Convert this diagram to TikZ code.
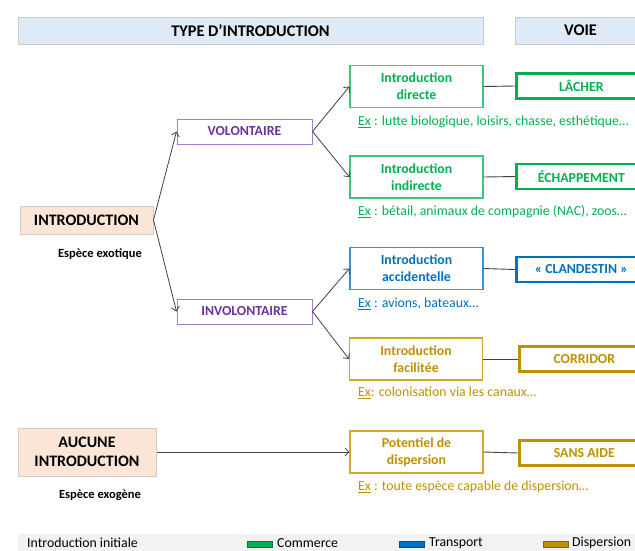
\documentclass[tikz,border=0pt]{standalone}
\usepackage{fontspec}
\setmainfont{Carlito}
\usetikzlibrary{arrows.meta,positioning}

\definecolor{cheadfill}{HTML}{DEEBF7}
\definecolor{cheadline}{HTML}{C3CCD8}
\definecolor{cpeach}{HTML}{FBE5D6}
\definecolor{cpeachline}{HTML}{D6CBC3}
\definecolor{cpurple}{HTML}{7030A0}
\definecolor{cpurplelt}{HTML}{A77DD0}
\definecolor{cgreen}{HTML}{00B050}
\definecolor{cgreenlt}{HTML}{3FC47F}
\definecolor{cblue}{HTML}{0070C0}
\definecolor{cbluelt}{HTML}{3C8FD6}
\definecolor{cgold}{HTML}{BF9000}
\definecolor{cgoldlt}{HTML}{D2A92C}
\definecolor{clegend}{HTML}{F2F2F2}
\definecolor{cline}{HTML}{404040}

\tikzset{
  headbox/.style={draw=cheadline, fill=cheadfill, line width=1pt, minimum height=27pt,
    inner sep=0pt, font=\fontsize{16.3}{18}\selectfont\bfseries},
  startbox/.style={draw=cpeachline, fill=cpeach, line width=1pt, align=center,
    inner sep=0pt, font=\fontsize{16}{19.5}\selectfont\bfseries},
  waybox/.style={draw=cpurplelt, text=cpurple, line width=1pt, minimum width=135pt,
    minimum height=25pt, inner sep=0pt, font=\fontsize{13.8}{16}\selectfont\bfseries},
  introbox/.style={draw=#1, line width=1.1pt, minimum width=133pt, minimum height=42pt,
    inner sep=0pt, align=center, font=\fontsize{13.8}{17}\selectfont\bfseries},
  voiebox/.style={draw=#1, text=#1, line width=2.6pt, anchor=west, minimum width=130pt,
    minimum height=25pt, inner sep=0pt, font=\fontsize{13.8}{16}\selectfont\bfseries},
  extext/.style={text=#1, anchor=west, inner sep=0pt, font=\fontsize{13.8}{16}\selectfont},
  species/.style={inner sep=0pt, font=\fontsize{12.5}{14}\selectfont\bfseries},
  arrow/.style={draw=cline, line width=0.8pt, -{Straight Barb[length=4pt,width=8pt]}},
  link/.style={draw=cline, line width=0.9pt},
  swatch/.style={draw=#1!70!black, fill=#1, line width=0.6pt},
  legtext/.style={anchor=west, inner sep=0pt, font=\fontsize{13.8}{15}\selectfont}
}

\begin{document}
\begin{tikzpicture}[x=1pt, y=-1pt]
  \useasboundingbox (0,0) rectangle (635,550);
  \clip (0,0) rectangle (635,550);

  % headers
  \node[headbox, minimum width=465pt] (typehead) at (250.5,30.5) {TYPE D’INTRODUCTION};
  \node[headbox, anchor=west, minimum width=130pt] (voiehead) at (515,30.5) {VOIE};

  % starting points
  \node[startbox, minimum width=133pt, minimum height=28pt] (intro) at (86.5,220) {INTRODUCTION};
  \node[species] (exotique) at (100,254) {Espèce exotique};
  \node[startbox, minimum width=138pt, minimum height=48pt] (aucune) at (87,452) {AUCUNE\\INTRODUCTION};
  \node[species] (exogene) at (100,495) {Espèce exogène};

  % voluntary or not
  \node[waybox] (vol) at (244.5,131.5) {VOLONTAIRE};
  \node[waybox] (invol) at (244.5,311.5) {INVOLONTAIRE};

  % type of introduction
  \node[introbox=cgreenlt, text=cgreen] (directe) at (416.5,86.5) {Introduction\\directe};
  \node[introbox=cgreenlt, text=cgreen] (indirecte) at (416.5,177) {Introduction\\indirecte};
  \node[introbox=cbluelt, text=cblue] (accid) at (416.5,268.5) {Introduction\\accidentelle};
  \node[introbox=cgoldlt, text=cgold] (facil) at (416,359) {Introduction\\facilitée};
  \node[introbox=cgoldlt, text=cgold] (potentiel) at (416.5,452) {Potentiel de\\dispersion};

  % examples
  \node[extext=cgreen] (exdirecte) at (358,122) {\underline{Ex} : lutte biologique, loisirs, chasse, esthétique…};
  \node[extext=cgreen] (exindirecte) at (358,212) {\underline{Ex} : bétail, animaux de compagnie (NAC), zoos…};
  \node[extext=cblue] (exaccid) at (358,304) {\underline{Ex} : avions, bateaux…};
  \node[extext=cgold] (exfacil) at (358,393) {\underline{Ex}: colonisation via les canaux…};
  \node[extext=cgold] (expotentiel) at (358,487) {\underline{Ex} : toute espèce capable de dispersion…};

  % pathways
  \node[voiebox=cgreen] (lacher) at (515,86) {LÂCHER};
  \node[voiebox=cgreen] (echap) at (515,176.5) {ÉCHAPPEMENT};
  \node[voiebox=cblue] (clandestin) at (515,269.5) {« CLANDESTIN »};
  \node[voiebox=cgold] (corridor) at (518,359) {CORRIDOR};
  \node[voiebox=cgold] (sansaide) at (518,453) {SANS AIDE};

  % connectors
  \draw[arrow] (intro.east) -- (vol.west);
  \draw[arrow] (intro.east) -- (invol.west);
  \draw[arrow] (vol.east) -- (directe.west);
  \draw[arrow] (vol.east) -- (indirecte.west);
  \draw[arrow] (invol.east) -- (accid.west);
  \draw[arrow] (invol.east) -- (facil.west);
  \draw[arrow] (aucune.east) -- (potentiel.west);
  \draw[link] (directe.east) -- (lacher.west);
  \draw[link] (indirecte.east) -- (echap.west);
  \draw[link] (accid.east) -- (clandestin.west);
  \draw[link] (facil.east) -- (corridor.west);
  \draw[link] (potentiel.east) -- (sansaide.west);

  % legend
  \fill[clegend] (18,534) rectangle (640,556);
  \node[legtext] (legintro) at (27,543) {Introduction initiale};
  \draw[swatch=cgreen] (247,541.5) rectangle (272,547);
  \node[legtext] (legcom) at (277,543) {Commerce};
  \draw[swatch=cblue] (399,541.5) rectangle (424,547);
  \node[legtext] (legtrans) at (429,543) {Transport};
  \draw[swatch=cgold] (543,541.5) rectangle (568,547);
  \node[legtext] (legdisp) at (572,543) {Dispersion};
\end{tikzpicture}
\end{document}
